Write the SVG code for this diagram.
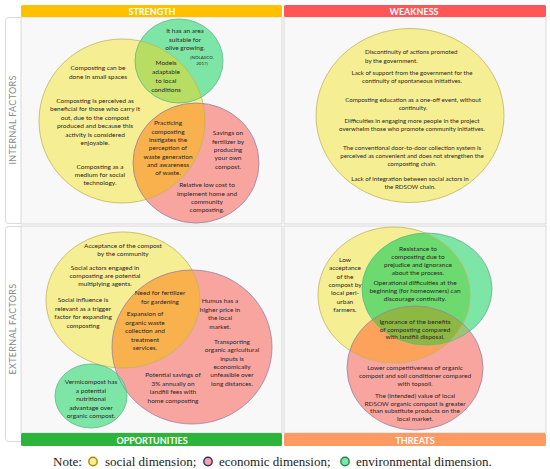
<svg xmlns="http://www.w3.org/2000/svg" width="550" height="469" viewBox="0 0 550 469">
<defs>
<style>
.t{font-family:Lato,"Liberation Sans",sans-serif;font-size:6.5px;fill:#2e2626;text-anchor:middle}
.w{font-size:6.2px}
.sm{font-size:4.5px}
.hd{font-family:Lato,"Liberation Sans",sans-serif;font-size:9px;font-weight:bold;fill:#fff;text-anchor:middle}
.side{font-family:Lato,"Liberation Sans",sans-serif;font-size:9px;fill:#8a8a8a;text-anchor:middle;letter-spacing:0.3px}
.note{font-family:"Liberation Serif",serif;font-size:13px;fill:#222}
.panel{fill:#f8f8f8;stroke:#cfcfcf;stroke-width:0.8}
.lab{fill:#fff;stroke:#cfcfcf;stroke-width:0.8}
.y{fill:#f6ee92}
.r{fill:#f8a5a0}
.g{fill:#7de5a6}
.ys{fill:none;stroke:#c2b45e;stroke-width:0.8}
.rs{fill:none;stroke:#9a80a6;stroke-width:0.8}
.gs{fill:none;stroke:#5fb886;stroke-width:0.8}
</style>
<clipPath id="cSY"><ellipse cx="122" cy="121" rx="83" ry="82"/></clipPath>
<clipPath id="cOY"><ellipse cx="123" cy="300" rx="77" ry="68"/></clipPath>
<clipPath id="cTY"><ellipse cx="394" cy="295" rx="76" ry="68"/></clipPath>
<clipPath id="cTG"><ellipse cx="427" cy="289" rx="65" ry="56"/></clipPath>
</defs>

<g id="frame">
<rect class="lab" x="5.5" y="17.5" width="18" height="206" rx="3"/>
<rect class="lab" x="5.5" y="226.5" width="18" height="215" rx="3"/>
<rect class="panel" x="21" y="17" width="261" height="207"/>
<rect class="panel" x="284" y="17" width="262" height="207"/>
<rect class="panel" x="21" y="226" width="261" height="207"/>
<rect class="panel" x="284" y="226" width="262" height="207"/>
<text class="side" transform="translate(16,120) rotate(-90)">INTERNAL FACTORS</text>
<text class="side" transform="translate(16,329) rotate(-90)">EXTERNAL FACTORS</text>
</g>

<g id="header-strength"><rect x="21" y="5" width="261" height="12" rx="1.5" fill="#ffc000"/><text class="hd" x="152" y="15">STRENGTH</text></g>
<g id="header-weakness"><rect x="284" y="5" width="262" height="12" rx="1.5" fill="#ff5757"/><text class="hd" x="414" y="15">WEAKNESS</text></g>
<g id="header-opportunities"><rect x="21" y="433" width="261" height="13" rx="1.5" fill="#2db43a"/><text class="hd" x="152" y="443.5">OPPORTUNITIES</text></g>
<g id="header-threats"><rect x="284" y="433" width="262" height="13" rx="1.5" fill="#fe9a62"/><text class="hd" x="415" y="443.5">THREATS</text></g>

<g id="strength">
<g id="s-shapes">
<ellipse class="y" cx="122" cy="121" rx="83" ry="82"/>
<ellipse class="g" cx="179" cy="61" rx="44" ry="42"/>
<ellipse class="r" cx="196" cy="163" rx="63" ry="60"/>
<g clip-path="url(#cSY)">
<ellipse cx="179" cy="61" rx="44" ry="42" fill="#b7de62"/>
<ellipse cx="196" cy="163" rx="63" ry="60" fill="#f8b14c"/>
</g>
<ellipse class="ys" cx="122" cy="121" rx="83" ry="82"/>
<ellipse class="gs" cx="179" cy="61" rx="44" ry="42"/>
<ellipse class="rs" cx="196" cy="163" rx="63" ry="60"/>
</g>
<g id="s-olive">
<text class="t"><tspan x="185" y="33">It has an area</tspan><tspan x="185" y="42">suitable for</tspan><tspan x="185" y="50">olive growing.</tspan></text>
<text class="t sm"><tspan x="202" y="58.5">(NOLASCO,</tspan><tspan x="202" y="64.5">2017)</tspan></text>
</g>
<g id="s-models"><text class="t"><tspan x="166" y="65">Models</tspan><tspan x="166" y="74">adaptable</tspan><tspan x="166" y="83">to local</tspan><tspan x="166" y="91.5">conditions</tspan></text></g>
<g id="s-small"><text class="t"><tspan x="98" y="70">Composting can be</tspan><tspan x="98" y="79">done in small spaces</tspan></text></g>
<g id="s-beneficial"><text class="t"><tspan x="95" y="103">Composting is perceived as</tspan><tspan x="95" y="111.4">beneficial for those who carry it</tspan><tspan x="95" y="119.8">out, due to the compost</tspan><tspan x="95" y="128.2">produced and because this</tspan><tspan x="95" y="136.6">activity is considered</tspan><tspan x="95" y="145">enjoyable.</tspan></text></g>
<g id="s-social"><text class="t"><tspan x="100" y="169">Composting as a</tspan><tspan x="100" y="177">medium for social</tspan><tspan x="100" y="185">technology.</tspan></text></g>
<g id="s-practicing"><text class="t"><tspan x="168" y="125">Practicing</tspan><tspan x="168" y="133.5">composting</tspan><tspan x="168" y="142">instigates the</tspan><tspan x="168" y="150">perception of</tspan><tspan x="168" y="158.5">waste generation</tspan><tspan x="168" y="167">and awareness</tspan><tspan x="168" y="175">of waste.</tspan></text></g>
<g id="s-savings"><text class="t"><tspan x="228" y="135">Savings on</tspan><tspan x="228" y="143.5">fertilizer by</tspan><tspan x="228" y="152">producing</tspan><tspan x="228" y="160">your own</tspan><tspan x="228" y="168.5">compost.</tspan></text></g>
<g id="s-lowcost"><text class="t"><tspan x="207" y="187">Relative low cost to</tspan><tspan x="207" y="195.5">implement home and</tspan><tspan x="207" y="204">community</tspan><tspan x="207" y="212">composting.</tspan></text></g>
</g>

<g id="weakness">
<ellipse class="y" cx="410" cy="115.5" rx="94" ry="87"/>
<ellipse class="ys" cx="410" cy="115.5" rx="94" ry="87"/>
<g id="w-texts">
<text class="t w" style="text-anchor:start"><tspan x="365" y="54">Discontinuity of actions promoted</tspan><tspan x="365" y="63">by the government.</tspan></text>
<text class="t w"><tspan x="412" y="75">Lack of support from the government for the</tspan><tspan x="412" y="83">continuity of spontaneous initiatives.</tspan></text>
<text class="t w"><tspan x="413" y="102">Composting education as a one-off event, without</tspan><tspan x="413" y="110">continuity.</tspan></text>
<text class="t w"><tspan x="412" y="123">Difficulties in engaging more people in the project</tspan><tspan x="412" y="131">overwhelm those who promote community initiatives.</tspan></text>
<text class="t w"><tspan x="412" y="150">The conventional door-to-door collection system is</tspan><tspan x="412" y="158">perceived as convenient and does not strengthen the</tspan><tspan x="412" y="166">composting chain.</tspan></text>
<text class="t w"><tspan x="410" y="181">Lack of integration between social actors in</tspan><tspan x="410" y="189">the RDSOW chain.</tspan></text>
</g>
</g>

<g id="opportunities">
<g id="o-shapes">
<ellipse class="y" cx="123" cy="300" rx="77" ry="68"/>
<ellipse class="r" cx="192" cy="347" rx="80" ry="77"/>
<ellipse class="g" cx="91" cy="396" rx="36" ry="32"/>
<g clip-path="url(#cOY)"><ellipse cx="192" cy="347" rx="80" ry="77" fill="#f8b14c"/></g>
<ellipse class="ys" cx="123" cy="300" rx="77" ry="68"/>
<ellipse class="rs" cx="192" cy="347" rx="80" ry="77"/>
<ellipse class="gs" cx="91" cy="396" rx="36" ry="32"/>
</g>
<g id="o-acceptance"><text class="t"><tspan x="123" y="248">Acceptance of the compost</tspan><tspan x="123" y="256">by the community</tspan></text></g>
<g id="o-actors"><text class="t"><tspan x="105" y="270">Social actors engaged in</tspan><tspan x="105" y="278">composting are potential</tspan><tspan x="105" y="286">multiplying agents.</tspan></text></g>
<g id="o-influence"><text class="t"><tspan x="83" y="302">Social influence is</tspan><tspan x="83" y="310.5">relevant as a trigger</tspan><tspan x="83" y="319">factor for expanding</tspan><tspan x="83" y="327.5">composting</tspan></text></g>
<g id="o-need"><text class="t"><tspan x="160" y="295">Need for fertilizer</tspan><tspan x="160" y="304">for gardening</tspan></text></g>
<g id="o-expansion"><text class="t"><tspan x="145" y="316">Expansion of</tspan><tspan x="145" y="324.5">organic waste</tspan><tspan x="145" y="333">collection and</tspan><tspan x="145" y="341.5">treatment</tspan><tspan x="145" y="350">services.</tspan></text></g>
<g id="o-humus"><text class="t"><tspan x="220" y="303">Humus has a</tspan><tspan x="220" y="311.5">higher price in</tspan><tspan x="220" y="320">the local</tspan><tspan x="220" y="328.5">market.</tspan></text></g>
<g id="o-transport"><text class="t"><tspan x="232" y="344">Transporting</tspan><tspan x="232" y="352.3">organic agricultural</tspan><tspan x="232" y="360.6">inputs is</tspan><tspan x="232" y="369">economically</tspan><tspan x="232" y="377.3">unfeasible over</tspan><tspan x="232" y="385.6">long distances.</tspan></text></g>
<g id="o-potential"><text class="t"><tspan x="173" y="377">Potential savings of</tspan><tspan x="173" y="385.5">3% annually on</tspan><tspan x="173" y="394">landfill fees with</tspan><tspan x="173" y="402.5">home composting</tspan></text></g>
<g id="o-vermi"><text class="t"><tspan x="91" y="384">Vermicompost has</tspan><tspan x="91" y="392.5">a potential</tspan><tspan x="91" y="401">nutritional</tspan><tspan x="91" y="409.5">advantage over</tspan><tspan x="91" y="418">organic compost.</tspan></text></g>
</g>

<g id="threats">
<g id="t-shapes">
<ellipse class="y" cx="394" cy="295" rx="76" ry="68"/>
<ellipse class="g" cx="427" cy="289" rx="65" ry="56"/>
<ellipse class="r" cx="415" cy="368" rx="68" ry="62"/>
<g clip-path="url(#cTY)">
<ellipse cx="427" cy="289" rx="65" ry="56" fill="#6cda6e"/>
<ellipse cx="415" cy="368" rx="68" ry="62" fill="#fca25a"/>
</g>
<g clip-path="url(#cTG)"><ellipse cx="415" cy="368" rx="68" ry="62" fill="#9dc27b"/></g>
<g clip-path="url(#cTY)"><g clip-path="url(#cTG)"><ellipse cx="415" cy="368" rx="68" ry="62" fill="#8db843"/></g></g>
<ellipse class="ys" cx="394" cy="295" rx="76" ry="68"/>
<ellipse class="gs" cx="427" cy="289" rx="65" ry="56"/>
<ellipse class="rs" cx="415" cy="368" rx="68" ry="62"/>
</g>
<g id="t-low"><text class="t"><tspan x="345" y="262">Low</tspan><tspan x="345" y="270.3">acceptance</tspan><tspan x="345" y="278.6">of the</tspan><tspan x="345" y="287">compost by</tspan><tspan x="345" y="295.3">local peri-</tspan><tspan x="345" y="303.6">urban</tspan><tspan x="345" y="312">farmers.</tspan></text></g>
<g id="t-resistance"><text class="t"><tspan x="418" y="251">Resistance to</tspan><tspan x="418" y="259">composting due to</tspan><tspan x="418" y="267">prejudice and ignorance</tspan><tspan x="418" y="275">about the process.</tspan></text></g>
<g id="t-operational"><text class="t"><tspan x="415" y="285">Operational difficulties at the</tspan><tspan x="415" y="293">beginning (for homeowners) can</tspan><tspan x="415" y="301">discourage continuity.</tspan></text></g>
<g id="t-ignorance"><text class="t"><tspan x="415" y="324">Ignorance of the benefits</tspan><tspan x="415" y="331.5">of composting compared</tspan><tspan x="415" y="339">with landfill disposal.</tspan></text></g>
<g id="t-lower"><text class="t"><tspan x="415" y="370">Lower competitiveness of organic</tspan><tspan x="415" y="378">compost and soil conditioner compared</tspan><tspan x="415" y="385.5">with topsoil.</tspan></text></g>
<g id="t-value"><text class="t"><tspan x="415" y="398">The (intended) value of local</tspan><tspan x="415" y="405.7">RDSOW organic compost is greater</tspan><tspan x="415" y="413.3">than substitute products on the</tspan><tspan x="415" y="421">local market.</tspan></text></g>
</g>

<g id="note">
<text class="note" x="53" y="466">Note:</text>
<circle cx="93" cy="461.5" r="4.2" fill="#f6ee92" stroke="#b08a00" stroke-width="1.4"/>
<text class="note" x="105" y="466">social dimension;</text>
<circle cx="208" cy="461.5" r="4.2" fill="#f8a5a0" stroke="#2c3180" stroke-width="1.4"/>
<text class="note" x="219" y="466">economic dimension;</text>
<circle cx="345" cy="461.5" r="4.2" fill="#7de5a6" stroke="#1f8a45" stroke-width="1.4"/>
<text class="note" x="356" y="466">environmental dimension.</text>
</g>
</svg>
